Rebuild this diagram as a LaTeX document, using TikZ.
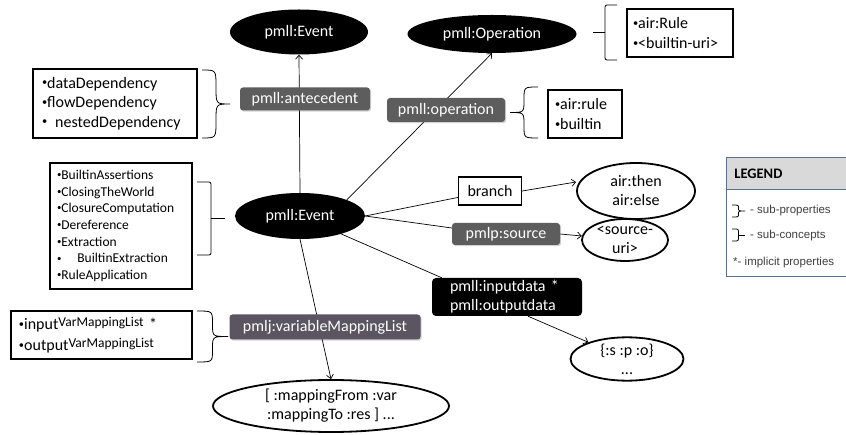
\documentclass[tikz,border=0pt]{standalone}
\usepackage{fontspec}
\setmainfont{Carlito}
\newfontfamily\legendfont{Liberation Sans}
\usetikzlibrary{shapes.geometric,arrows.meta,shadows}
\pgfdeclarelayer{bg}
\pgfsetlayers{bg,main}
\definecolor{boxgrey}{HTML}{5D5D5D}
\definecolor{vmlgrey}{HTML}{5A5561}
\definecolor{legendblue}{HTML}{5B7090}
\definecolor{legendhead}{HTML}{D9D9D9}
\definecolor{legendtext}{HTML}{404040}
\newcommand{\bul}{\raisebox{0.3ex}{\scalebox{0.65}{•}}}
\newcommand{\CurlyBrace}[5]{%
  \pgfmathsetmacro\cbxc{(#1+#2)/2}\pgfmathsetmacro\cbm{(#3+#4)/2}%
  \draw[bracestyle] (#1,#3) .. controls (\cbxc,#3) .. (\cbxc,#3+#5) -- (\cbxc,\cbm-#5) .. controls (\cbxc,\cbm) .. (#2,\cbm) .. controls (\cbxc,\cbm) .. (\cbxc,\cbm+#5) -- (\cbxc,#4-#5) .. controls (\cbxc,#4) .. (#1,#4);}
\newcommand{\SquareBrace}[4]{%
  \pgfmathsetmacro\sbxc{(#1+#2)/2}\pgfmathsetmacro\sbm{(#3+#4)/2}%
  \draw[bracestyle, rounded corners=2pt] (#1,#3) -- (\sbxc,#3) -- (\sbxc,#4) -- (#1,#4);
  \draw[bracestyle] (\sbxc,\sbm) -- (#2,\sbm);}
\tikzset{
  every node/.style={font=\fontsize{16}{19.5}\selectfont},
  blackell/.style={ellipse, fill=black, text=white, inner sep=0pt, align=center},
  whiteell/.style={ellipse, draw=black, line width=1.8pt, fill=white, inner sep=0pt, align=center, font=\fontsize{16}{19}\selectfont},
  greybox/.style={rectangle, rounded corners=3pt, fill=boxgrey, text=white, inner sep=0pt,
    drop shadow={shadow xshift=1.2pt, shadow yshift=-1.2pt, opacity=0.35}},
  listbox/.style={rectangle, draw=black, line width=1.3pt, fill=white, align=left, inner ysep=0pt},
  conn/.style={line width=0.7pt, draw=black},
  arr/.style={conn, -{Straight Barb[length=4pt,width=7pt]}},
  bracestyle/.style={line width=0.8pt, draw=black},
  legendtxt/.style={font=\legendfont\fontsize{11.5}{13}\selectfont, text=legendtext, inner sep=0pt}
}
\begin{document}
\begin{tikzpicture}[x=1pt,y=-1pt]
\useasboundingbox (0,0) rectangle (846,435);

% main nodes
\node[blackell, minimum width=138pt, minimum height=45pt] (evtop) at (299,32) {pmll:Event};
\node[blackell, minimum width=169pt, minimum height=38pt] (op) at (492,34) {pmll:Operation};
\node[blackell, minimum width=130pt, minimum height=46pt] (evmid) at (300,216) {pmll:Event};

\node[greybox, minimum width=130pt, minimum height=23pt] (antecedent) at (305,99) {pmll:antecedent};
\node[greybox, minimum width=118pt, minimum height=24pt] (operation) at (446,110) {pmll:operation};
\node[greybox, minimum width=108pt, minimum height=22pt] (source) at (506,234) {pmlp:source};
\node[greybox, fill=vmlgrey, minimum width=191pt, minimum height=25pt] (vml) at (325,327) {pmlj:variableMappingList};
\node[rectangle, rounded corners=4pt, fill=black, text=white, inner xsep=18pt, inner ysep=0pt,
  text width=114pt, align=left, minimum height=38pt, font=\fontsize{16}{19}\selectfont] (inputdata) at (507,297) {pmll:inputdata *\\pmll:outputdata};

\node[rectangle, draw=black, line width=1.3pt, fill=white, minimum width=63pt, minimum height=28pt, inner sep=0pt] (branch) at (490,191) {branch};

\node[whiteell, minimum width=118pt, minimum height=56pt] (then) at (636,191) {air:then\\air:else};
\node[whiteell, minimum width=86pt, minimum height=42pt] (srcuri) at (625,240) {<source-\\uri>};
\node[whiteell, minimum width=113pt, minimum height=40pt] (spo) at (627,359) {\{:s :p :o\}\\...};
\node[whiteell, minimum width=236pt, minimum height=52pt] (mapping) at (331,406) {[ :mappingFrom :var\\:mappingTo :res ] ...};

% list boxes
\node[listbox, inner xsep=9pt, text width=146pt, minimum height=69pt] (antbox) at (115,103.5)
  {\bul dataDependency\\\bul flowDependency\\\bul\hspace{8pt}nestedDependency};
\node[listbox, inner xsep=7pt, text width=128pt, minimum height=126pt, font=\fontsize{13.5}{16.7}\selectfont] (builtinbox) at (121,226)
  {\bul BuiltinAssertions\\\bul ClosingTheWorld\\\bul ClosureComputation\\\bul Dereference\\\bul Extraction\\\bul\hspace{16pt}BuiltinExtraction\\\bul RuleApplication};
\node[listbox, inner xsep=8pt, text width=165pt, minimum height=48pt, font=\fontsize{16}{21}\selectfont] (vmlbox) at (101.5,335)
  {\bul input\raisebox{3pt}{\fontsize{13.5}{14}\selectfont VarMappingList} *\\\bul output\raisebox{3pt}{\fontsize{13.5}{14}\selectfont VarMappingList}};
\node[listbox, inner xsep=6pt, text width=94pt, minimum height=48pt, font=\fontsize{16}{20}\selectfont] (oprulebox) at (680,33)
  {\bul air:Rule\\\bul <builtin-uri>};
\node[listbox, inner xsep=7pt, text width=60pt, minimum height=48pt, font=\fontsize{16}{20}\selectfont] (rulebox) at (585,114)
  {\bul air:rule\\\bul builtin};

% braces
\CurlyBrace{202}{230}{70}{138}{16}
\CurlyBrace{538}{510}{87}{138}{12}
\CurlyBrace{197}{228}{311}{362}{12}
\SquareBrace{197}{225}{182}{255}
\SquareBrace{617}{593}{5}{60}

% legend
\node[draw=legendblue, line width=0.8pt, fill=white, minimum width=121pt, minimum height=119pt,
  anchor=north west, inner sep=0pt] (legend) at (726,157) {};
\node[draw=legendblue, line width=0.8pt, fill=legendhead, minimum width=121pt, minimum height=32pt,
  anchor=north west, inner sep=0pt, text width=105pt, align=left,
  font=\fontsize{14.5}{16}\selectfont\bfseries] (legendtitle) at (726,157) {LEGEND};
\CurlyBrace{732}{745}{205}{217}{3}
\SquareBrace{732}{745}{229}{241}
\node[legendtxt, anchor=west] (lgprop) at (750,211) {- sub-properties};
\node[legendtxt, anchor=west] (lgconc) at (750,236) {- sub-concepts};
\node[legendtxt, anchor=west] (lgimpl) at (733,263) {*- implicit properties};

% connectors
\begin{pgfonlayer}{bg}
\draw[arr] (evmid.north) -- (evtop.south);
\draw[arr] (evmid.19) -- (op.south);
\draw[conn] (evmid.east) -- (branch);
\draw[arr] (branch.east) -- ([yshift=9pt]then.west);
\draw[conn] (evmid.east) -- ([yshift=6pt]source.west);
\draw[arr] (source.east) -- (srcuri);
\draw[conn] (evmid) -- ([xshift=10pt]inputdata.north west);
\draw[arr] ([xshift=21pt]inputdata.south) -- (spo);
\draw[arr] (evmid.south) -- (mapping.north);
\end{pgfonlayer}
\end{tikzpicture}
\end{document}
